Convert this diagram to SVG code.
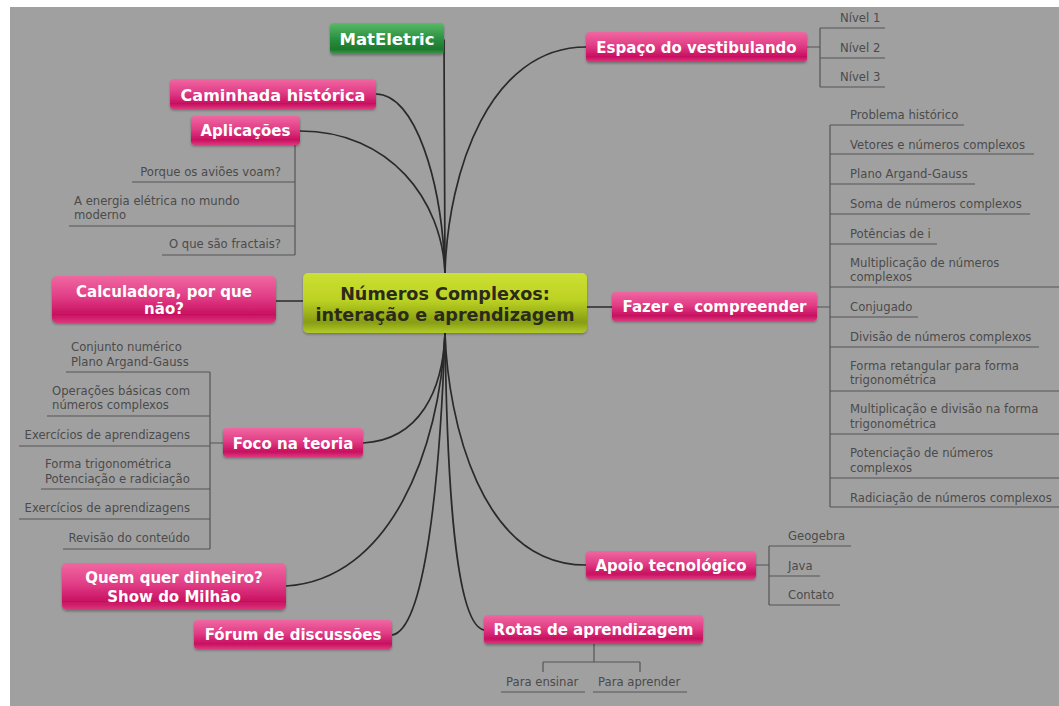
<svg xmlns="http://www.w3.org/2000/svg" width="1059" height="706" viewBox="0 0 1059 706">
<defs>
<linearGradient id="gPink" x1="0" y1="0" x2="0" y2="1">
<stop offset="0" stop-color="#f067a1"/><stop offset="0.45" stop-color="#e13d86"/><stop offset="0.82" stop-color="#c81060"/><stop offset="1" stop-color="#dc3a7e"/>
</linearGradient>
<linearGradient id="gGreen" x1="0" y1="0" x2="0" y2="1">
<stop offset="0" stop-color="#58ba68"/><stop offset="0.5" stop-color="#2b9141"/><stop offset="0.85" stop-color="#1c792e"/><stop offset="1" stop-color="#3b9b4b"/>
</linearGradient>
<linearGradient id="gCenter" x1="0" y1="0" x2="0" y2="1">
<stop offset="0" stop-color="#cbe031"/><stop offset="0.45" stop-color="#bcd224"/><stop offset="0.82" stop-color="#879d13"/><stop offset="1" stop-color="#b2ca28"/>
</linearGradient>
<filter id="sh" x="-10%" y="-20%" width="120%" height="150%">
<feDropShadow dx="0" dy="1.5" stdDeviation="1" flood-color="#000" flood-opacity="0.3"/>
</filter>
</defs>
<style>
.pink{fill:url(#gPink);filter:url(#sh)}
.green{fill:url(#gGreen);filter:url(#sh)}
.center{fill:url(#gCenter);filter:url(#sh)}
.nt{font-family:"DejaVu Sans",Verdana,sans-serif;font-weight:bold;font-size:15px;fill:#ffffff;text-anchor:middle;white-space:pre}
.ct{font-family:"DejaVu Sans",Verdana,sans-serif;font-weight:bold;font-size:17.6px;fill:#2b2b1b;text-anchor:middle}
.lt{font-family:"DejaVu Sans",Verdana,sans-serif;font-size:11.65px;fill:#4b4b4b}
.r{text-anchor:end}
.curve{fill:none;stroke:#2a2a2a;stroke-width:1.7;stroke-linecap:round}
.tree{fill:none;stroke:#555555;stroke-width:1.2}
</style>
<rect x="0" y="0" width="1059" height="706" fill="#ffffff"/>
<rect x="10" y="7" width="1049" height="699" fill="#a0a0a0"/>

<g id="connectors">
<path class="curve" d="M444,40 L445,273"/>
<path class="curve" d="M376,94 C415,94 442,180 445,273"/>
<path class="curve" d="M300,131 C390,131 442,200 445,273"/>
<path class="curve" d="M586,47 C490,47 448,170 445,273"/>
<path class="curve" d="M276,301 L303,301"/>
<path class="curve" d="M587,307 L612,307"/>
<path class="curve" d="M363,443 C420,440 443,390 445,333"/>
<path class="curve" d="M286,586 C390,580 440,450 445,333"/>
<path class="curve" d="M392,635 C425,630 440,480 445,333"/>
<path class="curve" d="M586,565 C480,565 448,420 445,333"/>
<path class="curve" d="M484,630 C455,625 447,480 445,333"/>
<path class="tree" d="M295,145 V255 M132,182 H295 M69,226 H295 M162,255 H295"/>
<path class="tree" d="M807,47 H820 M820,28 V87 M820,28 H885 M820,58 H885 M820,87 H885"/>
<path class="tree" d="M817,307 H830 M830,125 V507 M830,125 H964 M830,154 H1034 M830,184 H975 M830,214 H1030 M830,244 H937 M830,287 H1059 M830,317 H918 M830,347 H1039 M830,391 H1059 M830,434 H1059 M830,478 H1059 M830,507 H1059"/>
<path class="tree" d="M223,443 H210 M210,372 V549 M66,372 H210 M47,416 H210 M19,446 H210 M41,489 H210 M19,519 H210 M63,549 H210"/>
<path class="tree" d="M756,565 H769 M769,546 V605 M769,546 H851 M769,576 H820 M769,605 H840"/>
<path class="tree" d="M594,644 V662 M543,662 H640 M543,662 V672 M640,662 V672 M501,692 H585 M593,692 H687"/>
</g>

<g id="center">
<rect class="center" x="303" y="273" width="284" height="60" rx="5"/>
<text class="ct" x="445" y="300">Números Complexos:</text>
<text class="ct" x="445" y="321">interação e aprendizagem</text>
</g>

<g id="mateletric">
<rect class="green" x="330" y="23" width="114" height="31" rx="4"/>
<text class="nt" style="font-size:16.5px" x="387" y="45">MatEletric</text>
</g>

<g id="caminhada">
<rect class="pink" x="170" y="79" width="206" height="30" rx="4"/>
<text class="nt" style="font-size:16px" x="273" y="101">Caminhada histórica</text>
</g>

<g id="aplicacoes">
<rect class="pink" x="191" y="116" width="109" height="29" rx="4"/>
<text class="nt" x="245.5" y="136">Aplicações</text>
<text class="lt r" x="281" y="176">Porque os aviões voam?</text>
<text class="lt" x="74" y="205">A energia elétrica no mundo</text>
<text class="lt" x="74" y="219">moderno</text>
<text class="lt r" x="281" y="248">O que são fractais?</text>
</g>

<g id="espaco">
<rect class="pink" x="586" y="32" width="221" height="30" rx="4"/>
<text class="nt" x="696.5" y="53">Espaço do vestibulando</text>
<text class="lt" x="840" y="22">Nível 1</text>
<text class="lt" x="840" y="52">Nível 2</text>
<text class="lt" x="840" y="81">Nível 3</text>
</g>

<g id="calculadora">
<rect class="pink" x="52" y="276" width="224" height="47" rx="5"/>
<text class="nt" x="164" y="297">Calculadora, por que</text>
<text class="nt" x="164" y="314">não?</text>
</g>

<g id="fazer">
<rect class="pink" x="612" y="292" width="205" height="29" rx="4"/>
<text class="nt" x="714.5" y="312">Fazer e  compreender</text>
<text class="lt" x="850" y="119">Problema histórico</text>
<text class="lt" x="850" y="149">Vetores e números complexos</text>
<text class="lt" x="850" y="178">Plano Argand-Gauss</text>
<text class="lt" x="850" y="208">Soma de números complexos</text>
<text class="lt" x="850" y="238">Potências de i</text>
<text class="lt" x="850" y="267">Multiplicação de números</text>
<text class="lt" x="850" y="281">complexos</text>
<text class="lt" x="850" y="311">Conjugado</text>
<text class="lt" x="850" y="341">Divisão de números complexos</text>
<text class="lt" x="850" y="370">Forma retangular para forma</text>
<text class="lt" x="850" y="384">trigonométrica</text>
<text class="lt" x="850" y="413">Multiplicação e divisão na forma</text>
<text class="lt" x="850" y="428">trigonométrica</text>
<text class="lt" x="850" y="457">Potenciação de números</text>
<text class="lt" x="850" y="472">complexos</text>
<text class="lt" x="850" y="502">Radiciação de números complexos</text>
</g>

<g id="foco">
<rect class="pink" x="223" y="428" width="140" height="29" rx="4"/>
<text class="nt" x="293" y="449">Foco na teoria</text>
<text class="lt" x="71" y="351">Conjunto numérico</text>
<text class="lt" x="71" y="366">Plano Argand-Gauss</text>
<text class="lt" x="52" y="395">Operações básicas com</text>
<text class="lt" x="52" y="409">números complexos</text>
<text class="lt r" x="190" y="439">Exercícios de aprendizagens</text>
<text class="lt" x="45" y="468">Forma trigonométrica</text>
<text class="lt" x="45" y="483">Potenciação e radiciação</text>
<text class="lt r" x="190" y="512">Exercícios de aprendizagens</text>
<text class="lt r" x="190" y="542">Revisão do conteúdo</text>
</g>

<g id="quem">
<rect class="pink" x="62" y="563" width="224" height="47" rx="5"/>
<text class="nt" x="174" y="583">Quem quer dinheiro?</text>
<text class="nt" x="174" y="602">Show do Milhão</text>
</g>

<g id="forum">
<rect class="pink" x="194" y="620" width="198" height="29" rx="4"/>
<text class="nt" x="293" y="640">Fórum de discussões</text>
</g>

<g id="apoio">
<rect class="pink" x="586" y="551" width="170" height="28" rx="4"/>
<text class="nt" x="671" y="571">Apoio tecnológico</text>
<text class="lt" x="788" y="540">Geogebra</text>
<text class="lt" x="788" y="570">Java</text>
<text class="lt" x="788" y="599">Contato</text>
</g>

<g id="rotas">
<rect class="pink" x="484" y="615" width="219" height="29" rx="4"/>
<text class="nt" x="593.5" y="635">Rotas de aprendizagem</text>
<text class="lt" x="506" y="686">Para ensinar</text>
<text class="lt" x="598" y="686">Para aprender</text>
</g>
</svg>
